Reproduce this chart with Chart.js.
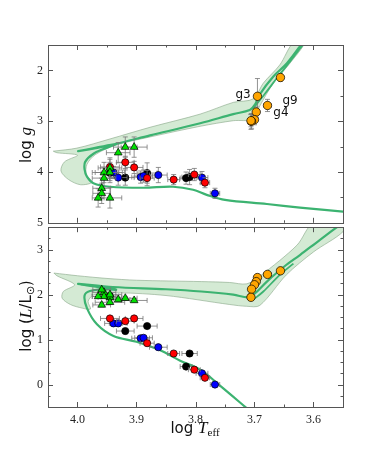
<!DOCTYPE html>
<html>
<head>
<meta charset="utf-8">
<title>HR diagram</title>
<script src="https://cdn.jsdelivr.net/npm/chart.js@4.4.1/dist/chart.umd.min.js"></script>
<style>
    body { margin: 0; background: #fff; }
    #wrap { position: relative; width: 381px; height: 452px; overflow: hidden; }
    canvas { position: absolute; left: 0; }
    #topChart { top: 0; }
    #bottomChart { top: 215px; }
    .axis-title { position: absolute; font-family: "DejaVu Sans", sans-serif; font-size: 15px; color: #111; white-space: nowrap; transform: translate(-50%, -50%); }
    .axis-title.rot { transform: translate(-50%, -50%) rotate(-90deg); }
    .axis-title i { font-family: "Liberation Serif", serif; font-size: 17px; }
    .axis-title sub { font-family: "Liberation Serif", serif; font-size: 11px; vertical-align: -3px; }
    .star-label { position: absolute; font-family: "DejaVu Sans", sans-serif; font-size: 12px; color: #111; line-height: 12px; }
</style>
</head>
<body>
<div id="wrap">
    <canvas id="topChart" width="381" height="235"></canvas>
    <canvas id="bottomChart" width="381" height="237"></canvas>
    <div class="axis-title rot" style="left:26px; top:145px;">log <i>g</i></div>
    <div class="axis-title rot" style="left:26px; top:316px;">log (<i>L</i>/L<sub>⊙</sub>)</div>
    <div class="axis-title" style="left:195px; top:428px;">log <i>T</i><sub>eff</sub></div>
</div>
<script>
// ticks
const X_TICKS = [4.0, 3.9, 3.8, 3.7, 3.6];
const X_MINOR = [3.95, 3.85, 3.75, 3.65];
const G_TICKS = [2, 3, 4, 5];
const G_MINOR = [2.5, 3.5, 4.5];
const L_TICKS = [0, 1, 2, 3];
const L_MINOR = [-0.25, 0.25, 0.5, 0.75, 1.25, 1.5, 1.75, 2.25, 2.5, 2.75, 3.25];

// stars: log Teff, log g, log L and errors
const GREEN_T  = [3.931, 3.919, 3.904, 3.945, 3.955, 3.945, 3.955, 3.959, 3.959, 3.965, 3.945];
const GREEN_G  = [3.62, 3.51, 3.51, 3.92, 4.01, 4.01, 4.12, 4.32, 4.42, 4.51, 4.51];
const GREEN_L  = [1.89, 1.92, 1.87, 1.94, 2.05, 1.83, 1.96, 2.11, 1.77, 1.96, 2.00];
const GREEN_TE = [0.02, 0.02, 0.022, 0.02, 0.02, 0.025, 0.02, 0.015, 0.015, 0.01, 0.02];
const GREEN_GE = [0.2, 0.2, 0.2, 0.2, 0.2, 0.2, 0.2, 0.2, 0.2, 0.18, 0.2];
const GREEN_LE = [0.04, 0.04, 0.04, 0.04, 0.04, 0.04, 0.04, 0.04, 0.04, 0.04, 0.04];

const RED_T  = [3.945, 3.919, 3.904, 3.882, 3.837, 3.802, 3.784];
const RED_G  = [3.90, 3.81, 3.91, 4.12, 4.15, 4.05, 4.21];
const RED_L  = [1.47, 1.41, 1.47, 0.92, 0.69, 0.33, 0.15];
const RED_TE = [0.016, 0.015, 0.015, 0.012, 0.01, 0.01, 0.008];
const RED_GE = [0.15, 0.12, 0.12, 0.15, 0.1, 0.12, 0.1];

const BLUE_T  = [3.939, 3.931, 3.893, 3.888, 3.863, 3.789, 3.767];
const BLUE_G  = [4.01, 4.11, 4.10, 4.08, 4.06, 4.11, 4.42];
const BLUE_L  = [1.36, 1.36, 1.03, 1.04, 0.83, 0.25, 0.0];
const BLUE_TE = [0.015, 0.015, 0.015, 0.015, 0.015, 0.01, 0.008];
const BLUE_GE = [0.12, 0.15, 0.12, 0.12, 0.15, 0.12, 0.1];

const BLACK_T  = [3.945, 3.919, 3.882, 3.816, 3.810, 3.706];
const BLACK_G  = [4.02, 4.11, 4.02, 4.12, 4.10, 3.01];
const BLACK_L  = [1.97, 1.19, 1.30, 0.40, 0.69, 1.95];
const BLACK_TE = [0.015, 0.015, 0.017, 0.01, 0.013, 0.005];
const BLACK_GE = [0.15, 0.15, 0.2, 0.12, 0.15, 0.15];

const ORANGE_T  = [3.656, 3.695, 3.678, 3.697, 3.700, 3.705, 3.706];
const ORANGE_G  = [2.14, 2.51, 2.69, 2.82, 2.97, 3.00, 2.99];
const ORANGE_L  = [2.53, 2.38, 2.45, 2.29, 2.22, 2.12, 1.94];
const ORANGE_TE = [0.005, 0.005, 0.006, 0.005, 0.005, 0.005, 0.005];
const ORANGE_GE = [0.07, 0.35, 0.12, 0.1, 0.1, 0.15, 0.12];

// evolutionary tracks
const TRACK_G_T = [3.54, 3.623, 3.679, 3.75, 3.781, 3.804, 3.838, 3.888, 3.945, 3.973, 3.984, 3.988, 3.987, 3.973, 3.950, 3.935, 3.999, 3.94, 3.877, 3.792, 3.736, 3.708, 3.699, 3.691, 3.668, 3.645, 3.615];
const TRACK_G   = [4.79, 4.70, 4.63, 4.55, 4.45, 4.35, 4.29, 4.31, 4.29, 4.22, 4.09, 3.95, 3.80, 3.64, 3.52, 3.45, 3.59, 3.46, 3.28, 3.04, 2.86, 2.78, 2.67, 2.47, 2.12, 1.86, 1.40];
const TRACK2_G_T = [3.703, 3.683, 3.660, 3.638, 3.615];
const TRACK2_G   = [2.76, 2.47, 2.12, 1.80, 1.45];

const TRACK_L_T = [3.711, 3.758, 3.792, 3.826, 3.860, 3.900, 3.939, 3.967, 3.984, 3.988, 3.979, 3.955, 3.935, 3.999, 3.94, 3.85, 3.79, 3.736, 3.710, 3.699, 3.679, 3.650, 3.623, 3.589, 3.55];
const TRACK_L   = [-0.55, -0.03, 0.33, 0.53, 0.76, 0.95, 1.08, 1.34, 1.70, 1.98, 2.08, 2.12, 2.11, 2.24, 2.17, 2.12, 2.07, 2.00, 1.94, 2.03, 2.29, 2.62, 2.88, 3.22, 3.60];
const TRACK2_L_T = [3.702, 3.685, 3.657, 3.634];
const TRACK2_L   = [1.89, 2.07, 2.44, 2.69];

// shaded uncertainty bands (outline)
const BAND_G_T = [4.041, 4.001, 3.945, 3.877, 3.792, 3.736, 3.702, 3.685, 3.657, 3.634, 3.615, 3.640, 3.668, 3.691, 3.702, 3.736, 3.792, 3.877, 3.935, 3.970, 3.984, 3.985, 3.975, 3.995, 4.015, 4.028, 4.022, 4.000, 4.035, 4.041];
const BAND_G   = [3.59, 3.53, 3.35, 3.12, 2.86, 2.63, 2.56, 2.25, 1.89, 1.45, 1.45, 1.86, 2.25, 2.70, 2.96, 2.99, 3.10, 3.31, 3.47, 3.66, 3.85, 4.05, 4.20, 4.25, 4.15, 3.98, 3.80, 3.67, 3.62, 3.59];
const BAND_L_T = [4.04, 4.00, 3.95, 3.90, 3.79, 3.742, 3.713, 3.69, 3.628, 3.60, 3.55, 3.55, 3.60, 3.646, 3.691, 3.713, 3.742, 3.85, 3.93, 3.972, 3.982, 3.978, 3.992, 4.012, 4.026, 4.024, 4.005, 4.035, 4.04];
const BAND_L   = [2.48, 2.42, 2.36, 2.32, 2.29, 2.27, 2.24, 2.42, 3.10, 3.60, 3.60, 3.40, 2.95, 2.44, 1.76, 1.74, 1.78, 1.98, 2.04, 2.00, 1.85, 1.68, 1.70, 1.78, 1.92, 2.07, 2.22, 2.42, 2.48];

const STAR_LABELS = [
    { text: 'g3', idx: 1, dx: -22, dy: -8 },
    { text: 'g9', idx: 2, dx: 15, dy: -11 },
    { text: 'g4', idx: 3, dx: 17, dy: -6 }
];

const TRACK_COLOR = '#3cb371';

function pts(xs, ys) {
    return xs.map((x, i) => ({ x: x, y: ys[i] }));
}

function stars(label, xs, ys, xe, ye, color, style, r) {
    return {
        label: label,
        data: pts(xs, ys),
        errX: xe,
        errY: ye,
        showLine: false,
        pointStyle: style,
        pointRadius: r,
        backgroundColor: color,
        borderColor: '#000',
        pointBorderWidth: 0.7
    };
}

function line(label, xs, ys, width) {
    return {
        label: label,
        data: pts(xs, ys),
        showLine: true,
        pointRadius: 0,
        borderColor: TRACK_COLOR,
        borderWidth: width,
        tension: 0.35,
        fill: false
    };
}

function band(label, xs, ys) {
    return {
        label: label,
        data: pts(xs, ys),
        showLine: true,
        pointRadius: 0,
        borderColor: 'rgba(140,170,140,0.8)',
        borderWidth: 0.8,
        backgroundColor: 'rgba(100,180,100,0.28)',
        tension: 0.3,
        fill: 'shape'
    };
}

// error bars under each marker set
const errorBars = {
    id: 'errorBars',
    beforeDatasetDraw(chart, args) {
        const ds = chart.data.datasets[args.index];
        if (!ds.errX) return;
        const ctx = chart.ctx, sx = chart.scales.x, sy = chart.scales.y;
        const a = chart.chartArea;
        ctx.save();
        ctx.beginPath();
        ctx.rect(a.left, a.top, a.right - a.left, a.bottom - a.top);
        ctx.clip();
        ctx.strokeStyle = '#777';
        ctx.lineWidth = 0.8;
        ds.data.forEach((p, i) => {
            const px = sx.getPixelForValue(p.x), py = sy.getPixelForValue(p.y);
            const ex = ds.errX[i], ey = ds.errY ? ds.errY[i] : 0;
            ctx.beginPath();
            if (ex) {
                const x1 = sx.getPixelForValue(p.x - ex), x2 = sx.getPixelForValue(p.x + ex);
                ctx.moveTo(x1, py); ctx.lineTo(x2, py);
                ctx.moveTo(x1, py - 2.5); ctx.lineTo(x1, py + 2.5);
                ctx.moveTo(x2, py - 2.5); ctx.lineTo(x2, py + 2.5);
            }
            if (ey) {
                const y1 = sy.getPixelForValue(p.y - ey), y2 = sy.getPixelForValue(p.y + ey);
                ctx.moveTo(px, y1); ctx.lineTo(px, y2);
                ctx.moveTo(px - 2.5, y1); ctx.lineTo(px + 2.5, y1);
                ctx.moveTo(px - 2.5, y2); ctx.lineTo(px + 2.5, y2);
            }
            ctx.stroke();
        });
        ctx.restore();
    }
};

// box round the panel with inward ticks on all sides
const frame = {
    id: 'frame',
    afterDraw(chart, args, o) {
        const ctx = chart.ctx, a = chart.chartArea, sx = chart.scales.x, sy = chart.scales.y;
        ctx.save();
        ctx.strokeStyle = '#555';
        ctx.lineWidth = 1;
        ctx.strokeRect(Math.round(a.left) + 0.5, Math.round(a.top) + 0.5, Math.round(a.right - a.left), Math.round(a.bottom - a.top));
        ctx.beginPath();
        const xt = (v, len) => {
            const x = Math.round(sx.getPixelForValue(v)) + 0.5;
            ctx.moveTo(x, a.bottom); ctx.lineTo(x, a.bottom - len);
            ctx.moveTo(x, a.top); ctx.lineTo(x, a.top + len);
        };
        const yt = (v, len) => {
            const y = Math.round(sy.getPixelForValue(v)) + 0.5;
            ctx.moveTo(a.left, y); ctx.lineTo(a.left + len, y);
            ctx.moveTo(a.right, y); ctx.lineTo(a.right - len, y);
        };
        X_TICKS.forEach(v => xt(v, 5));
        X_MINOR.forEach(v => xt(v, 2.5));
        o.yMajor.forEach(v => yt(v, 5));
        o.yMinor.forEach(v => yt(v, 2.5));
        ctx.stroke();
        ctx.restore();
    }
};

const tickFont = { family: 'Liberation Serif', size: 12 };

function yScale(min, max, reverse, ticks) {
    return {
        type: 'linear', min: min, max: max, reverse: reverse,
        grid: { display: false, drawTicks: false },
        border: { display: false },
        afterFit: s => { s.width = 48; },
        afterBuildTicks: s => { s.ticks = ticks.map(v => ({ value: v })); },
        ticks: { padding: 5, color: '#222', font: tickFont, callback: v => String(v) }
    };
}

var topChart = new Chart(document.getElementById('topChart'), {
    type: 'scatter',
    data: {
        datasets: [
            stars('A stars', GREEN_T, GREEN_G, GREEN_TE, GREEN_GE, '#00e000', 'triangle', 4.5),
            stars('giants', ORANGE_T, ORANGE_G, ORANGE_TE, ORANGE_GE, '#ffa500', 'circle', 4.2),
            stars('red', RED_T, RED_G, RED_TE, RED_GE, '#ff0000', 'circle', 3.6),
            stars('blue', BLUE_T, BLUE_G, BLUE_TE, BLUE_GE, '#0000ff', 'circle', 3.6),
            stars('black', BLACK_T, BLACK_G, BLACK_TE, BLACK_GE, '#000000', 'circle', 3.6),
            line('track 2', TRACK2_G_T, TRACK2_G, 1.8),
            line('track', TRACK_G_T, TRACK_G, 2.2),
            band('band', BAND_G_T, BAND_G)
        ]
    },
    options: {
        responsive: false,
        animation: false,
        layout: { padding: { top: 45, right: 38, bottom: 10, left: 0 } },
        plugins: {
            legend: { display: false },
            tooltip: { enabled: false },
            frame: { yMajor: G_TICKS, yMinor: G_MINOR }
        },
        scales: {
            x: { type: 'linear', min: 3.55, max: 4.05, reverse: true, display: false },
            y: yScale(1.5, 5, true, G_TICKS)
        }
    },
    plugins: [errorBars, frame]
});

var bottomChart = new Chart(document.getElementById('bottomChart'), {
    type: 'scatter',
    data: {
        datasets: [
            stars('A stars', GREEN_T, GREEN_L, GREEN_TE, GREEN_LE, '#00e000', 'triangle', 4.5),
            stars('giants', ORANGE_T, ORANGE_L, ORANGE_TE, null, '#ffa500', 'circle', 4.2),
            stars('red', RED_T, RED_L, RED_TE, null, '#ff0000', 'circle', 3.6),
            stars('blue', BLUE_T, BLUE_L, BLUE_TE, null, '#0000ff', 'circle', 3.6),
            stars('black', BLACK_T, BLACK_L, BLACK_TE, null, '#000000', 'circle', 3.6),
            line('track 2', TRACK2_L_T, TRACK2_L, 1.8),
            line('track', TRACK_L_T, TRACK_L, 2.2),
            band('band', BAND_L_T, BAND_L)
        ]
    },
    options: {
        responsive: false,
        animation: false,
        layout: { padding: { top: 10, right: 38, bottom: 0, left: 0 } },
        plugins: {
            legend: { display: false },
            tooltip: { enabled: false },
            frame: { yMajor: L_TICKS, yMinor: L_MINOR }
        },
        scales: {
            x: {
                type: 'linear', min: 3.55, max: 4.05, reverse: true,
                grid: { display: false, drawTicks: false },
                border: { display: false },
                afterFit: s => { s.height = 45; },
                afterBuildTicks: s => { s.ticks = X_TICKS.map(v => ({ value: v })); },
                ticks: { padding: 6, color: '#222', font: tickFont, maxRotation: 0, autoSkip: false, callback: v => v.toFixed(1) }
            },
            y: yScale(-0.5, 3.5, false, L_TICKS)
        }
    },
    plugins: [errorBars, frame]
});

// g3 / g4 / g9 labels next to their giants
STAR_LABELS.forEach(l => {
    const el = document.createElement('div');
    el.className = 'star-label';
    el.textContent = l.text;
    el.style.left = (topChart.scales.x.getPixelForValue(ORANGE_T[l.idx]) + l.dx) + 'px';
    el.style.top = (topChart.scales.y.getPixelForValue(ORANGE_G[l.idx]) + l.dy) + 'px';
    document.getElementById('wrap').appendChild(el);
});
</script>
</body>
</html>
